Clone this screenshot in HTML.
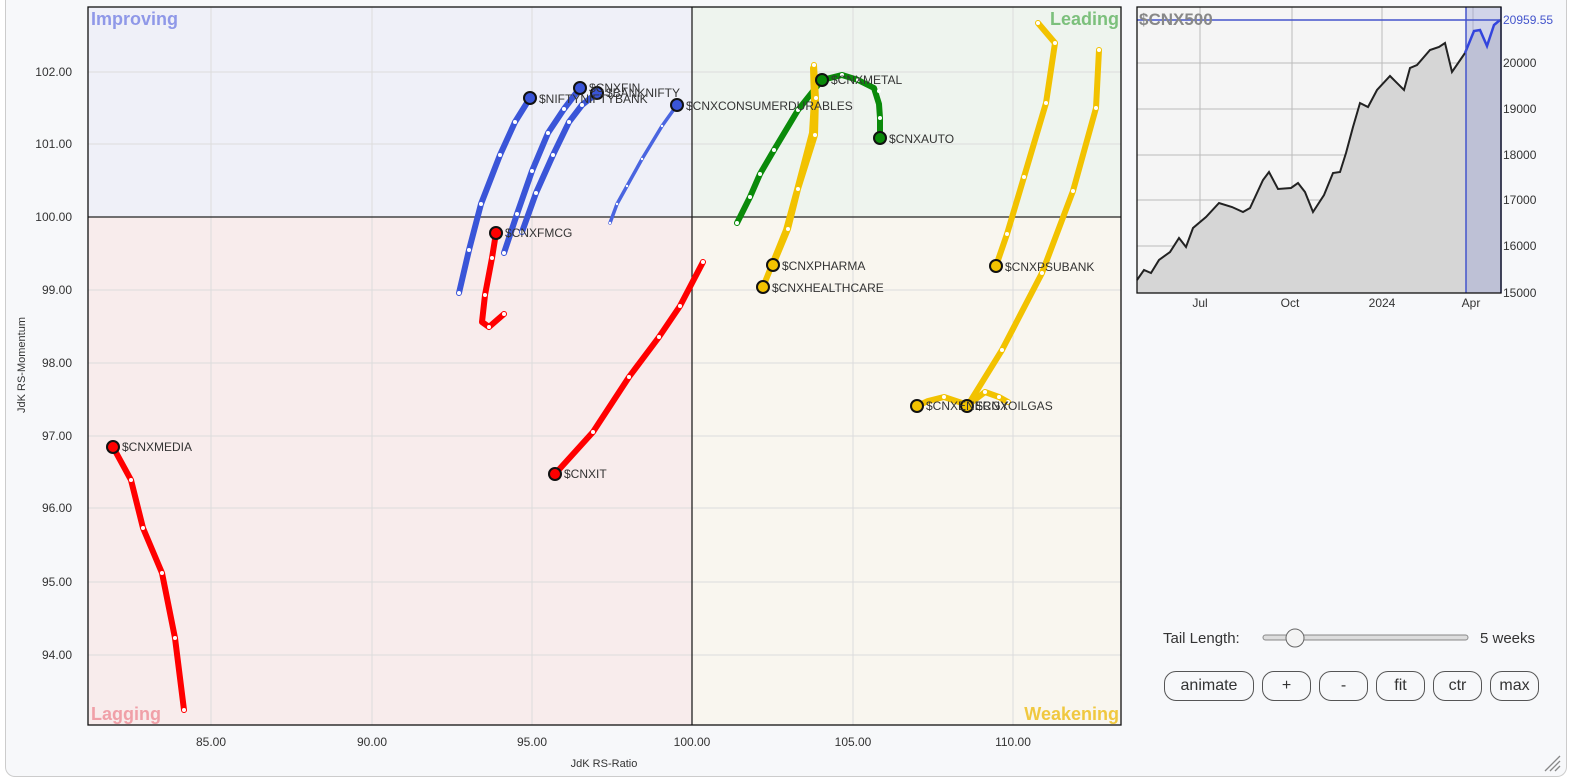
<!DOCTYPE html>
<html><head><meta charset="utf-8"><style>
body{margin:0;background:#fff;font-family:"Liberation Sans",Arial,sans-serif;}
.wrap{position:absolute;left:5px;top:0;width:1560px;height:776px;border:1px solid #ccc;border-top:none;border-radius:0 0 10px 10px;background:#f7f8fa;}
.btn{position:absolute;top:671px;height:30px;border:1px solid #555;border-radius:12px;box-sizing:border-box;font-size:16px;color:#333;text-align:center;line-height:28px;background:#f7f8fa;}
</style></head><body>
<div class="wrap"></div>
<svg width="1569" height="781" style="position:absolute;left:0;top:0" font-family="Liberation Sans,Arial,sans-serif">
<rect x="88" y="7" width="604" height="210" fill="#eff0f8"/>
<rect x="692" y="7" width="429" height="210" fill="#eef4ee"/>
<rect x="88" y="217" width="604" height="508" fill="#f8ecec"/>
<rect x="692" y="217" width="429" height="508" fill="#f9f6ef"/>
<g stroke="#dcdcdc" stroke-width="1">
<line x1="211" y1="7" x2="211" y2="725"/><line x1="372" y1="7" x2="372" y2="725"/><line x1="532" y1="7" x2="532" y2="725"/><line x1="853" y1="7" x2="853" y2="725"/><line x1="1013" y1="7" x2="1013" y2="725"/>
<line x1="88" y1="72" x2="1121" y2="72"/><line x1="88" y1="144" x2="1121" y2="144"/><line x1="88" y1="290" x2="1121" y2="290"/><line x1="88" y1="363" x2="1121" y2="363"/><line x1="88" y1="436" x2="1121" y2="436"/><line x1="88" y1="508" x2="1121" y2="508"/><line x1="88" y1="582" x2="1121" y2="582"/><line x1="88" y1="655" x2="1121" y2="655"/>
</g>
<line x1="692" y1="7" x2="692" y2="725" stroke="#222" stroke-width="1.3"/>
<line x1="88" y1="217" x2="1121" y2="217" stroke="#222" stroke-width="1.3"/>
<rect x="88" y="7" width="1033" height="718" fill="none" stroke="#111" stroke-width="1.3"/>
<g font-size="18" font-weight="bold">
<text x="91" y="25" fill="#8f98e8">Improving</text>
<text x="1119" y="25" fill="#7cc07c" text-anchor="end">Leading</text>
<text x="91" y="720" fill="#f0a0a8">Lagging</text>
<text x="1119" y="720" fill="#f0c840" text-anchor="end">Weakening</text>
</g>
<g font-size="12" fill="#333" text-anchor="end">
<text x="72" y="76">102.00</text><text x="72" y="148">101.00</text><text x="72" y="221">100.00</text><text x="72" y="294">99.00</text><text x="72" y="367">98.00</text><text x="72" y="440">97.00</text><text x="72" y="512">96.00</text><text x="72" y="586">95.00</text><text x="72" y="659">94.00</text>
</g>
<g font-size="12" fill="#333" text-anchor="middle">
<text x="211" y="746">85.00</text><text x="372" y="746">90.00</text><text x="532" y="746">95.00</text><text x="692" y="746">100.00</text><text x="853" y="746">105.00</text><text x="1013" y="746">110.00</text>
<text x="604" y="767" font-size="11">JdK RS-Ratio</text>
<text x="0" y="0" font-size="11" transform="translate(25,365) rotate(-90)">JdK RS-Momentum</text>
</g>
<g fill="none" stroke-linecap="round" stroke-linejoin="round">
<polyline stroke="#3a55d8" stroke-width="6" points="459,293 469,250 481,204 500,155 515,122 530,98"/>
<polyline stroke="#3a55d8" stroke-width="6" points="504,253 517,214 532,171 548,133 564,109 580,88"/>
<polyline stroke="#3a55d8" stroke-width="6" points="522,232 536,193 553,155 569,122 582,105 597,93"/>
<polyline stroke="#4a65e0" stroke-width="3.5" points="610,223 617,204 627,186 642,159 662,126 677,105"/>
<polyline stroke="#0a8a0a" stroke-width="6" points="737,223 750,197 760,174 774,150 798,110 822,80"/>
<polyline stroke="#0a8a0a" stroke-width="6" points="822,80 842,75 858,80 874,88 879,104 880,118 880,138"/>
<polyline stroke="#f2c200" stroke-width="6" points="814,65 816,98 815,135 798,189 788,229 773,265"/>
<polyline stroke="#f2c200" stroke-width="6" points="813,68 814,100 812,133 797,190 786,230 763,287"/>
<polyline stroke="#f2c200" stroke-width="6" points="1038,23 1055,43 1046,103 1024,177 1007,234 996,266"/>
<polyline stroke="#f2c200" stroke-width="6" points="1099,50 1096,108 1073,191 1042,273 1002,350 968,405"/>
<polyline stroke="#f2c200" stroke-width="6" points="1008,402 999,397 985,392 968,405"/>
<polyline stroke="#f2c200" stroke-width="6" points="917,406 928,401 944,397 956,401 968,405"/>
<polyline stroke="#f00" stroke-width="6" points="504,314 489,327 482,322 485,295 492,258 496,233"/>
<polyline stroke="#f00" stroke-width="6" points="703,262 680,306 659,337 629,377 593,432 555,474"/>
<polyline stroke="#f00" stroke-width="6" points="184,710 175,638 162,573 143,528 131,480 113,447"/>
</g>
<g fill="#fff" stroke="none">
<circle cx="459" cy="293" r="2"/><circle cx="469" cy="250" r="2"/><circle cx="481" cy="204" r="2"/><circle cx="500" cy="155" r="2"/><circle cx="515" cy="122" r="2"/>
<circle cx="504" cy="253" r="2"/><circle cx="517" cy="214" r="2"/><circle cx="532" cy="171" r="2"/><circle cx="548" cy="133" r="2"/><circle cx="564" cy="109" r="2"/>
<circle cx="522" cy="232" r="2"/><circle cx="536" cy="193" r="2"/><circle cx="553" cy="155" r="2"/><circle cx="569" cy="122" r="2"/><circle cx="582" cy="105" r="2"/>
<circle cx="610" cy="223" r="1.2"/><circle cx="617" cy="204" r="1.2"/><circle cx="627" cy="186" r="1.2"/><circle cx="642" cy="159" r="1.2"/><circle cx="662" cy="126" r="1.2"/>
<circle cx="737" cy="223" r="2"/><circle cx="750" cy="197" r="2"/><circle cx="760" cy="174" r="2"/><circle cx="774" cy="150" r="2"/><circle cx="798" cy="110" r="2"/>
<circle cx="842" cy="75" r="2"/><circle cx="858" cy="80" r="2"/><circle cx="879" cy="91" r="2"/><circle cx="880" cy="118" r="2"/>
<circle cx="814" cy="65" r="2"/><circle cx="816" cy="98" r="2"/><circle cx="815" cy="135" r="2"/><circle cx="798" cy="189" r="2"/><circle cx="788" cy="229" r="2"/>
<circle cx="1038" cy="23" r="2"/><circle cx="1055" cy="43" r="2"/><circle cx="1046" cy="103" r="2"/><circle cx="1024" cy="177" r="2"/><circle cx="1007" cy="234" r="2"/>
<circle cx="1099" cy="50" r="2"/><circle cx="1096" cy="108" r="2"/><circle cx="1073" cy="191" r="2"/><circle cx="1042" cy="273" r="2"/><circle cx="1002" cy="350" r="2"/>
<circle cx="985" cy="392" r="2"/><circle cx="999" cy="397" r="2"/><circle cx="1008" cy="402" r="2"/><circle cx="944" cy="397" r="2"/>
<circle cx="504" cy="314" r="2"/><circle cx="489" cy="327" r="2"/><circle cx="485" cy="295" r="2"/><circle cx="492" cy="258" r="2"/>
<circle cx="703" cy="262" r="2"/><circle cx="680" cy="306" r="2"/><circle cx="659" cy="337" r="2"/><circle cx="629" cy="377" r="2"/><circle cx="593" cy="432" r="2"/>
<circle cx="184" cy="710" r="2"/><circle cx="175" cy="638" r="2"/><circle cx="162" cy="573" r="2"/><circle cx="143" cy="528" r="2"/><circle cx="131" cy="480" r="2"/>
</g>
<g stroke="#111" stroke-width="2">
<circle cx="530" cy="98" r="6" fill="#3a55d8"/><circle cx="580" cy="88" r="6" fill="#3a55d8"/><circle cx="597" cy="93" r="6" fill="#3a55d8"/><circle cx="677" cy="105" r="6" fill="#3a55d8"/>
<circle cx="822" cy="80" r="6" fill="#0a8a0a"/><circle cx="880" cy="138" r="6" fill="#0a8a0a"/>
<circle cx="773" cy="265" r="6" fill="#f2c200"/><circle cx="763" cy="287" r="6" fill="#f2c200"/><circle cx="996" cy="266" r="6" fill="#f2c200"/><circle cx="967" cy="406" r="6" fill="#f2c200"/><circle cx="917" cy="406" r="6" fill="#f2c200"/>
<circle cx="496" cy="233" r="6" fill="#f00"/><circle cx="555" cy="474" r="6" fill="#f00"/><circle cx="113" cy="447" r="6" fill="#f00"/>
</g>
<g font-size="12" fill="#333">
<text x="539" y="103">$NIFTYNIFTYBANK</text><text x="589" y="92">$CNXFIN</text><text x="606" y="97">$BANKNIFTY</text><text x="686" y="110">$CNXCONSUMERDURABLES</text>
<text x="831" y="84">$CNXMETAL</text><text x="889" y="143">$CNXAUTO</text>
<text x="782" y="270">$CNXPHARMA</text><text x="772" y="292">$CNXHEALTHCARE</text><text x="1005" y="271">$CNXPSUBANK</text>
<text x="926" y="410">$CNXENERGY</text><text x="976" y="410">$CNXOILGAS</text>
<text x="505" y="237">$CNXFMCG</text><text x="564" y="478">$CNXIT</text><text x="122" y="451">$CNXMEDIA</text>
</g>
<!-- mini chart -->
<rect x="1137" y="7" width="364" height="286" fill="#f5f5f5"/>
<g stroke="#bbb" stroke-width="1">
<line x1="1200" y1="7" x2="1200" y2="293"/><line x1="1292" y1="7" x2="1292" y2="293"/><line x1="1382" y1="7" x2="1382" y2="293"/><line x1="1473" y1="7" x2="1473" y2="293"/>
<line x1="1137" y1="63" x2="1501" y2="63"/><line x1="1137" y1="109" x2="1501" y2="109"/><line x1="1137" y1="155" x2="1501" y2="155"/><line x1="1137" y1="200" x2="1501" y2="200"/><line x1="1137" y1="246" x2="1501" y2="246"/>
</g>
<polygon fill="#d6d6d6" points="1137,280 1144,270 1151,273 1159,260 1170,252 1179,238 1186,247 1193,228 1206,217 1219,203 1232,207 1243,212 1250,208 1263,180 1269,172 1278,189 1291,188 1298,183 1305,192 1313,212 1324,195 1333,173 1340,172 1346,153 1353,127 1360,103 1368,107 1377,90 1390,76 1404,90 1410,68 1417,65 1430,50 1439,47 1445,43 1452,72 1465,53 1474,31 1480,30 1487,46 1494,25 1500,20 1500,293 1137,293"/>
<rect x="1466" y="7" width="35" height="286" fill="#9aa3d8" opacity="0.4"/>
<polyline fill="none" stroke="#222" stroke-width="2" points="1137,280 1144,270 1151,273 1159,260 1170,252 1179,238 1186,247 1193,228 1206,217 1219,203 1232,207 1243,212 1250,208 1263,180 1269,172 1278,189 1291,188 1298,183 1305,192 1313,212 1324,195 1333,173 1340,172 1346,153 1353,127 1360,103 1368,107 1377,90 1390,76 1404,90 1410,68 1417,65 1430,50 1439,47 1445,43 1452,72 1465,53"/>
<polyline fill="none" stroke="#3344dd" stroke-width="2.5" points="1465,53 1474,31 1480,30 1487,46 1494,25 1500,20"/>
<line x1="1137" y1="20" x2="1501" y2="20" stroke="#4455cc" stroke-width="1.5"/>
<line x1="1466" y1="7" x2="1466" y2="293" stroke="#4455cc" stroke-width="1.5"/>
<line x1="1501" y1="7" x2="1501" y2="293" stroke="#4455cc" stroke-width="1.5"/>
<rect x="1137" y="7" width="364" height="286" fill="none" stroke="#111" stroke-width="1.3"/>
<text x="1139" y="25" font-size="17" font-weight="bold" fill="#888">$CNX500</text>
<g font-size="12" fill="#333">
<text x="1503" y="67">20000</text><text x="1503" y="113">19000</text><text x="1503" y="159">18000</text><text x="1503" y="204">17000</text><text x="1503" y="250">16000</text><text x="1503" y="297">15000</text>
<text x="1503" y="24" fill="#4455cc">20959.55</text>
</g>
<g font-size="12" fill="#333" text-anchor="middle">
<text x="1200" y="307">Jul</text><text x="1290" y="307">Oct</text><text x="1382" y="307">2024</text><text x="1471" y="307">Apr</text>
</g>
<!-- controls -->
<text x="1163" y="643" font-size="15" fill="#333">Tail Length:</text>
<rect x="1263" y="635" width="205" height="5" rx="2.5" fill="#ddd" stroke="#888"/>
<circle cx="1295" cy="638" r="9" fill="#f3f3f3" stroke="#666"/>
<text x="1480" y="643" font-size="15" fill="#333">5 weeks</text>
<g stroke="#888" stroke-width="1.3"><line x1="1545" y1="771" x2="1560" y2="756"/><line x1="1550" y1="771" x2="1560" y2="761"/><line x1="1555" y1="771" x2="1560" y2="766"/></g>
</svg>
<div class="btn" style="left:1164px;width:90px">animate</div>
<div class="btn" style="left:1262px;width:49px">+</div>
<div class="btn" style="left:1319px;width:49px">-</div>
<div class="btn" style="left:1376px;width:49px">fit</div>
<div class="btn" style="left:1433px;width:49px">ctr</div>
<div class="btn" style="left:1490px;width:49px">max</div>
</body></html>
